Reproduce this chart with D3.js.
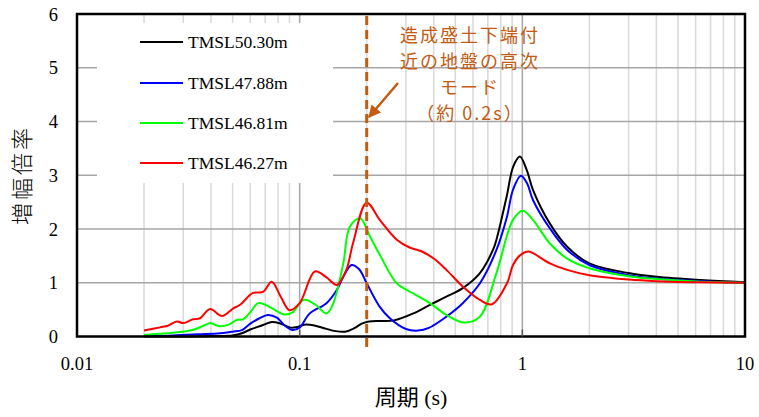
<!DOCTYPE html>
<html><head><meta charset="utf-8">
<script src="https://cdn.jsdelivr.net/npm/d3@7"></script>
<style>html,body{margin:0;padding:0;background:#fff;}svg{display:block;}</style>
</head><body>
<svg id="c" width="759" height="417"></svg>
<script>
const seriesNames = ["TMSL50.30m","TMSL47.88m","TMSL46.81m","TMSL46.27m"];
const seriesColors = ["#000000","#0000ff","#00ff00","#ff0000"];

const blackT = [0.02,0.03,0.04,0.045,0.05,0.055,0.06,0.067,0.075,0.082,0.09,0.096,0.105,0.115,0.13,0.145,0.16,0.175,0.19,0.205,0.23,0.265,0.324,0.385,0.456,0.54,0.645,0.738,0.765,0.85,0.91,0.975,1.046,1.116,1.33,1.59,2.0,3.0,4.0,6.3,10];
const blackV = [0.0,0.0,0.01,0.01,0.02,0.06,0.13,0.2,0.27,0.24,0.17,0.17,0.22,0.21,0.15,0.1,0.09,0.15,0.24,0.28,0.29,0.3,0.43,0.59,0.74,0.9,1.18,1.61,1.8,2.6,3.16,3.35,3.1,2.73,2.1,1.67,1.36,1.18,1.11,1.05,1.01];

const blueT = [0.02,0.027,0.035,0.044,0.05,0.055,0.06,0.066,0.072,0.079,0.086,0.093,0.1,0.111,0.132,0.147,0.157,0.171,0.185,0.2,0.229,0.254,0.3,0.34,0.38,0.456,0.54,0.645,0.765,0.853,0.908,0.985,1.05,1.116,1.33,1.59,2.0,3.0,4.0,6.3,10];
const blueV = [0.01,0.02,0.04,0.06,0.09,0.12,0.24,0.34,0.4,0.35,0.2,0.12,0.17,0.43,0.62,0.87,1.11,1.33,1.25,0.99,0.55,0.34,0.14,0.11,0.16,0.37,0.62,0.99,1.61,2.23,2.73,2.99,2.85,2.54,2.01,1.61,1.33,1.14,1.08,1.03,1.0];

const greenT = [0.02,0.0236,0.027,0.033,0.0384,0.0396,0.0438,0.048,0.0523,0.0557,0.06,0.065,0.07,0.0755,0.085,0.093,0.104,0.117,0.132,0.141,0.157,0.168,0.187,0.207,0.229,0.273,0.324,0.385,0.456,0.55,0.645,0.765,0.908,1.006,1.116,1.33,1.59,2.0,3.0,4.0,6.3,10];
const greenV = [0.03,0.05,0.07,0.12,0.23,0.25,0.19,0.22,0.31,0.32,0.45,0.62,0.59,0.52,0.41,0.45,0.68,0.6,0.43,0.6,1.36,2.04,2.2,1.86,1.52,0.99,0.8,0.62,0.4,0.26,0.37,1.18,2.17,2.34,2.17,1.73,1.45,1.27,1.12,1.07,1.02,1.0];

const redT = [0.02,0.0236,0.0256,0.0281,0.03,0.0332,0.0357,0.0396,0.0448,0.0502,0.054,0.0617,0.0684,0.0749,0.082,0.09,0.1,0.117,0.132,0.147,0.162,0.1735,0.2,0.229,0.273,0.31,0.35,0.4,0.456,0.54,0.645,0.73,0.853,0.908,0.97,1.06,1.116,1.33,1.59,2.0,3.0,4.0,6.3,10];
const redV = [0.11,0.17,0.2,0.28,0.25,0.32,0.34,0.51,0.38,0.52,0.59,0.81,0.83,1.02,0.75,0.49,0.62,1.21,1.1,0.96,1.24,1.73,2.49,2.17,1.8,1.66,1.59,1.45,1.24,0.93,0.68,0.6,0.99,1.33,1.5,1.58,1.55,1.36,1.24,1.14,1.06,1.03,1.01,1.0];

const seriesT = [blackT, blueT, greenT, redT];
const seriesV = [blackV, blueV, greenV, redV];

const xTicks = [0.01, 0.1, 1, 10];
const xTickLabels = ["0.01","0.1","1","10"];
const yTicks = [0,1,2,3,4,5,6];
const yTickLabels = ["0","1","2","3","4","5","6"];
const annotationLines = ["造成盛土下端付","近の地盤の高次","モード","（約 0.2s）"];
const markerPeriod = 0.2;

const svg = d3.select("#c");
const L = 77, R = 745, T = 14, B = 336.5;
const x = d3.scaleLog().domain([0.01, 10]).range([L, R]);
const y = d3.scaleLinear().domain([0, 6]).range([B, T]);

// minor vertical grid
const minor = [];
[0.01, 0.1, 1].forEach(d => { for (let k = 2; k <= 9; k++) minor.push(d * k); });
svg.append("g").selectAll("line").data(minor).join("line")
  .attr("x1", d => x(d)).attr("x2", d => x(d)).attr("y1", T).attr("y2", B)
  .attr("stroke", "#d9d9d9").attr("stroke-width", 1.5);
// major vertical grid
svg.append("g").selectAll("line").data([0.1, 1]).join("line")
  .attr("x1", d => x(d)).attr("x2", d => x(d)).attr("y1", T).attr("y2", B)
  .attr("stroke", "#a6a6a6").attr("stroke-width", 1.5);
// horizontal grid
svg.append("g").selectAll("line").data([1,2,3,4,5]).join("line")
  .attr("x1", L).attr("x2", R).attr("y1", d => y(d)).attr("y2", d => y(d))
  .attr("stroke", "#a6a6a6").attr("stroke-width", 1.5);

// legend background
svg.append("rect").attr("x", 97).attr("y", 23).attr("width", 236).attr("height", 160).attr("fill", "#fff");

// curves
const line = d3.line().x(d => x(d[0])).y(d => y(d[1])).curve(d3.curveCatmullRom.alpha(0.5));
seriesNames.forEach((n, i) => {
  const pts = seriesT[i].map((t, j) => [t, seriesV[i][j]]);
  svg.append("path").attr("d", line(pts)).attr("fill", "none")
    .attr("stroke", seriesColors[i]).attr("stroke-width", 2);
});

// frame
svg.append("rect").attr("x", L).attr("y", T).attr("width", R - L).attr("height", B - T)
  .attr("fill", "none").attr("stroke", "#000").attr("stroke-width", 2.5);
// small inner ticks at majors
svg.append("g").selectAll("line").data([0.1, 1]).join("line")
  .attr("x1", d => x(d)).attr("x2", d => x(d)).attr("y1", B - 7).attr("y2", B)
  .attr("stroke", "#595959").attr("stroke-width", 1.5);

// axis labels
const serif = "'Liberation Serif','Times New Roman',serif";
svg.append("g").selectAll("text").data(xTicks).join("text")
  .attr("x", d => x(d)).attr("y", 370).attr("text-anchor", "middle")
  .attr("font-family", serif).attr("font-size", 18.5).attr("fill", "#000")
  .text((d, i) => xTickLabels[i]);
svg.append("g").selectAll("text").data(yTicks).join("text")
  .attr("x", 58).attr("y", d => y(d) + 6.5).attr("text-anchor", "end")
  .attr("font-family", serif).attr("font-size", 18.5).attr("fill", "#000")
  .text((d, i) => yTickLabels[i]);

svg.append("text").attr("x", 411).attr("y", 405).attr("text-anchor", "middle")
  .attr("font-family", serif + ",'Noto Sans CJK JP'").attr("font-size", 22).attr("fill", "#000")
  .text("周期 (s)");
svg.append("text").attr("transform", "translate(30,175) rotate(-90)").attr("text-anchor", "middle")
  .attr("font-family", "'Noto Sans CJK JP'").attr("font-size", 22).attr("letter-spacing", 3).attr("fill", "#000")
  .attr("font-weight", 300)
  .text("増幅倍率");

// legend
const ly = [42, 83, 123, 163];
seriesNames.forEach((n, i) => {
  svg.append("line").attr("x1", 140).attr("x2", 183).attr("y1", ly[i]).attr("y2", ly[i])
    .attr("stroke", seriesColors[i]).attr("stroke-width", 2);
  svg.append("text").attr("x", 188).attr("y", ly[i] + 6).attr("font-family", serif)
    .attr("font-size", 17.5).attr("fill", "#000").text(n);
});

// marker dashed line
const orange = "#c55a11";
svg.append("line").attr("x1", x(markerPeriod)).attr("x2", x(markerPeriod)).attr("y1", 16).attr("y2", 347)
  .attr("stroke", orange).attr("stroke-width", 3).attr("stroke-dasharray", "9,5");

// annotation text
const ay = [42, 68, 94, 120];
annotationLines.forEach((t, i) => {
  svg.append("text").attr("x", 470).attr("y", ay[i]).attr("text-anchor", "middle")
    .attr("font-family", "'Noto Sans CJK JP'").attr("font-size", 18).attr("letter-spacing", 2)
    .attr("fill", orange).text(t);
});
// arrow
svg.append("defs").append("marker").attr("id", "ah").attr("viewBox", "0 0 10 10")
  .attr("refX", 9).attr("refY", 5).attr("markerWidth", 5).attr("markerHeight", 5)
  .attr("orient", "auto").append("path").attr("d", "M0,0 L10,5 L0,10 z").attr("fill", orange);
svg.append("line").attr("x1", 398).attr("y1", 83).attr("x2", 369).attr("y2", 117)
  .attr("stroke", orange).attr("stroke-width", 2.5).attr("marker-end", "url(#ah)");
</script>
</body></html>
